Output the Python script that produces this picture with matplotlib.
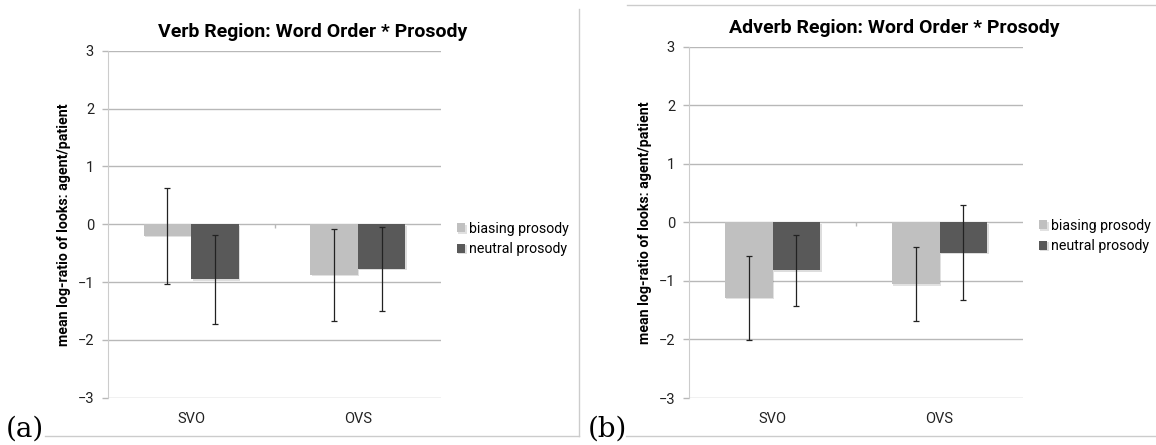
import numpy as np
import matplotlib.pyplot as plt
from matplotlib.lines import Line2D
from matplotlib import patheffects

plt.rcParams['font.family'] = ['Roboto', 'DejaVu Sans']

categories = ["SVO", "OVS"]
series = ["biasing prosody", "neutral prosody"]

# verb region: means and error bar half-widths
verb_biasing = [-0.20, -0.88]
verb_neutral = [-0.95, -0.77]
verb_biasing_err = [0.83, 0.79]
verb_neutral_err = [0.77, 0.73]

# adverb region
adverb_biasing = [-1.29, -1.06]
adverb_neutral = [-0.82, -0.52]
adverb_biasing_err = [0.72, 0.63]
adverb_neutral_err = [0.61, 0.81]

light = '#c0c0c0'
dark = '#595959'
grid_col = '#b8b8b8'
frame_col = '#cccccc'


def draw_panel(ax, title, biasing, neutral, biasing_err, neutral_err, legend_y):
    x = np.arange(len(categories))
    w = 0.286
    shadow = [patheffects.SimplePatchShadow(offset=(1, -1), alpha=0.15), patheffects.Normal()]
    b1 = ax.bar(x - w / 2, biasing, w, color=light, label=series[0], zorder=3)
    b2 = ax.bar(x + w / 2, neutral, w, color=dark, label=series[1], zorder=3)
    for p in list(b1) + list(b2):
        p.set_path_effects(shadow)
    ax.errorbar(x - w / 2, biasing, yerr=biasing_err, fmt='none', ecolor='#222222',
                elinewidth=0.9, capsize=2, capthick=0.9, zorder=4)
    ax.errorbar(x + w / 2, neutral, yerr=neutral_err, fmt='none', ecolor='#222222',
                elinewidth=0.9, capsize=2, capthick=0.9, zorder=4)

    ax.set_xlim(-0.5, 1.5)
    ax.set_ylim(-3, 3)
    ax.set_yticks(range(-3, 4))
    ax.yaxis.grid(True, color=grid_col, lw=1, zorder=0)
    ax.set_axisbelow(True)
    # category divider tick on the zero line
    ax.vlines(0.5, -0.07, 0, color=grid_col, lw=1, zorder=1)

    ax.set_xticks(x, categories)
    ax.tick_params(axis='x', length=0, pad=10, labelsize=10.5, labelcolor='#222222')
    ax.tick_params(axis='y', length=4, width=1, color=grid_col, pad=6, labelsize=10.5,
                   labelcolor='#222222')
    for s in ['top', 'right', 'bottom']:
        ax.spines[s].set_visible(False)
    ax.spines['left'].set_color(frame_col)

    ax.set_ylabel('mean log-ratio of looks: agent/patient', fontweight='bold',
                  fontsize=10.2, labelpad=5)
    ax.set_title(title, x=0.615, fontweight='bold', fontsize=14, pad=10)
    ax.legend(loc='center left', bbox_to_anchor=(1.03, legend_y), frameon=False,
              handlelength=0.6, handleheight=0.6, handletextpad=0.3,
              labelspacing=0.45, fontsize=10.2, borderaxespad=0)


fig = plt.figure(figsize=(11.56, 4.45), dpi=100)
ax1 = fig.add_axes([108 / 1156, 1 - 397.7 / 445, 333 / 1156, 347 / 445])
ax2 = fig.add_axes([689 / 1156, 1 - 398 / 445, 334 / 1156, 351.5 / 445])

draw_panel(ax1, 'Verb Region: Word Order * Prosody',
           verb_biasing, verb_neutral, verb_biasing_err, verb_neutral_err, 0.457)
draw_panel(ax2, 'Adverb Region: Word Order * Prosody',
           adverb_biasing, adverb_neutral, adverb_biasing_err, adverb_neutral_err, 0.461)

# panel letters
fig.text(6 / 1156, 1 - 437 / 445, '(a)', family='DejaVu Serif', fontsize=20, va='baseline')
fig.text(588 / 1156, 1 - 437 / 445, '(b)', family='DejaVu Serif', fontsize=20, va='baseline')

# thin frame lines around the panels
def hline(x0, x1, y):
    fig.add_artist(Line2D([x0 / 1156, x1 / 1156], [1 - y / 445, 1 - y / 445],
                          transform=fig.transFigure, color=frame_col, lw=1))

hline(45, 579, 436)
hline(626, 1156, 436)
hline(627, 1156, 4.5)
fig.add_artist(Line2D([579 / 1156, 579 / 1156], [1 - 9 / 445, 1 - 436 / 445],
                      transform=fig.transFigure, color=frame_col, lw=1))

fig.savefig('out.png', dpi=100)
